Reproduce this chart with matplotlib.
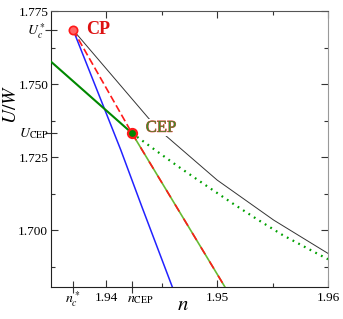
import matplotlib
matplotlib.use("Agg")
import matplotlib.pyplot as plt
import matplotlib.patheffects as pe

plt.rcParams['font.family'] = ['Liberation Serif', 'DejaVu Serif']
plt.rcParams['mathtext.fontset'] = 'stix'

# key points
cp = (1.9370, 1.7685)
cep = (1.9423, 1.7332)

# blue line
blue_n = [1.9370, 1.9413, 1.9432, 1.9460]
blue_u = [1.7685, 1.7274, 1.7080, 1.6800]

# red dashed (CP -> CEP) and red/green continuation
red_n = [1.9370, 1.9423]
red_u = [1.7685, 1.7332]
rg_n = [1.9423, 1.9507]
rg_u = [1.7332, 1.6805]

# green solid (left edge -> CEP)
gs_n = [1.9340, 1.9423]
gs_u = [1.7610, 1.7332]

# green dotted (CEP -> right edge)
gd_n = [1.9423, 1.9444, 1.9465, 1.9487, 1.9514, 1.9536, 1.9559, 1.9587, 1.9600]
gd_u = [1.7332, 1.7274, 1.7217, 1.7160, 1.7091, 1.7037, 1.6983, 1.6926, 1.6900]

# black thin line
bk_n = [1.9370, 1.9438, 1.9453, 1.9500, 1.9551, 1.9600]
bk_u = [1.7685, 1.7383, 1.7325, 1.7171, 1.7034, 1.6920]

xticks = [1.94, 1.95, 1.96]
xtick_labels = ['1.94', '1.95', '1.96']
yticks = [1.700, 1.725, 1.750, 1.775]
ytick_labels = ['1.700', '1.725', '1.750', '1.775']

W, H = 343, 319
fig = plt.figure(figsize=(W / 100, H / 100), dpi=100)
ax = fig.add_axes([51/W, 32/H, 277/W, 276/H])

ax.plot(bk_n, bk_u, color='#333333', lw=0.7, zorder=2)
ax.plot(blue_n, blue_u, color='#2222ff', lw=1.1, zorder=3)
ax.plot(gs_n, gs_u, color='#008800', lw=1.5, zorder=3)
ax.plot(gd_n, gd_u, color='#00a000', lw=1.6, linestyle=(0, (0.8, 2.1)), zorder=3)
ax.plot(red_n, red_u, color='#ff1a1a', lw=1.2, linestyle=(0, (4.5, 2.0)), zorder=3)
ax.plot(rg_n, rg_u, color='#66bb33', lw=1.2, zorder=3)
ax.plot(rg_n, rg_u, color='#ff1a1a', lw=1.2, linestyle=(0, (5, 5)), zorder=3)

ax.plot([cp[0]], [cp[1]], 'o', ms=6, mfc='#ff6666', mec='#ff1a1a', mew=1.2, zorder=5)
ax.plot([cep[0]], [cep[1]], 'o', ms=6.5, mfc='#008800', mec='#ff1a1a', mew=1.6, zorder=5)

ax.text(1.93815, 1.7685, 'CP', color='#dd1111', fontsize=13, fontweight='bold',
        va='center', ha='left', zorder=6)
ax.text(1.94355, 1.7350, 'CEP', color='#3f8a2a', fontsize=12, va='center', ha='left',
        zorder=6, bbox=dict(facecolor='white', edgecolor='none', pad=0.5),
        path_effects=[pe.withStroke(linewidth=0.6, foreground='#e84040')])

ax.set_xlim(1.935, 1.96)
ax.set_ylim(1.6805, 1.775)

ax.set_xticks(xticks, labels=xtick_labels)
ax.set_xticks([1.945, 1.955], minor=True)
ax.set_yticks(yticks, labels=ytick_labels)
ax.set_yticks([1.6875, 1.7125, 1.7375, 1.7625], minor=True)
ax.tick_params(which='both', direction='in', top=True, right=True, labelsize=9.5,
               colors='#333333', labelcolor='black')
ax.tick_params(axis='y', which='major', pad=2)
ax.tick_params(which='major', length=5, width=0.8)
ax.tick_params(which='minor', length=3, width=0.8)

for s in ['left', 'bottom']:
    ax.spines[s].set_color('#222222')
ax.spines['top'].set_color('#555555')
ax.spines['right'].set_color('#999999')

secx = ax.secondary_xaxis('bottom')
secx.set_xticks([cp[0], cep[0]], labels=['', ''])
secx.tick_params(direction='inout', length=8, width=0.8, colors='#333333')
secx.spines['bottom'].set_visible(False)

secy = ax.secondary_yaxis('left')
secy.set_yticks([cp[1], cep[1]], labels=['', ''])
secy.tick_params(direction='inout', length=8, width=0.8, colors='#333333')
secy.spines['left'].set_visible(False)

# special tick labels
fig.text(73/W, 1 - 299/H, r'$n_c^*$', fontsize=10, ha='center', va='center')
fig.text(127/W, 1 - 299/H, r'$n_{\rm CEP}$', fontsize=10, ha='left', va='center')
fig.text(46/W, 1 - 31/H, r'$U_c^*$', fontsize=10, ha='right', va='center')
fig.text(49/W, 1 - 134/H, r'$U_{\rm CEP}$', fontsize=10, ha='right', va='center')

fig.text(183/W, 1 - 306/H, r'$n$', fontsize=15, ha='center', va='center')
fig.text(12/W, 1 - 104/H, r'$U/W$', fontsize=14, ha='center', va='center',
         rotation=90)

fig.savefig('out.png', dpi=100)
